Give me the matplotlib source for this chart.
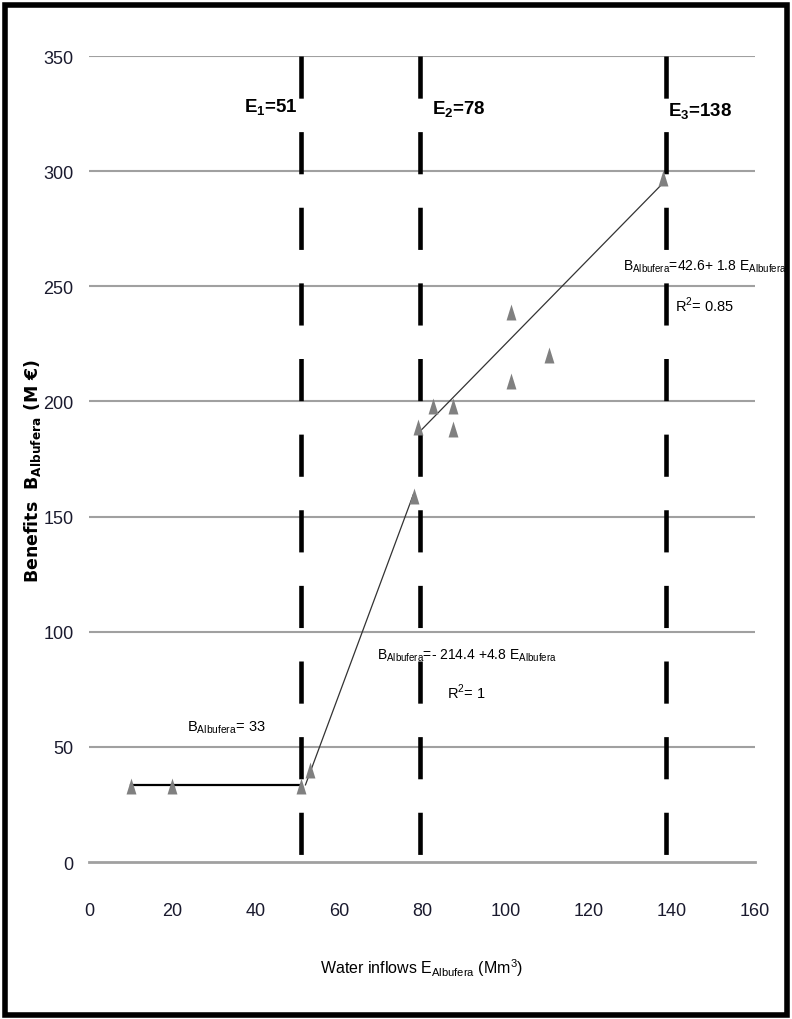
import matplotlib.pyplot as plt
from matplotlib.patches import Rectangle

plt.rcParams['font.family'] = ['Liberation Sans', 'DejaVu Sans']
plt.rcParams['mathtext.fontset'] = 'custom'
plt.rcParams['mathtext.rm'] = 'Liberation Sans'
plt.rcParams['mathtext.bf'] = 'Liberation Sans:bold'

# observed points (water inflow, benefit)
inflow = [10, 20, 51, 53, 78, 79, 82.7, 87.5, 87.5, 101.4, 101.4, 110.6, 138]
benefit = [33, 33, 33, 40, 159, 189, 198, 198, 188, 239, 209, 220, 297]

# fitted segments
seg1_x = [10, 51]
seg1_y = [33.5, 33.5]
seg2_x = [52, 78]
seg2_y = [33.5, 160]
seg3_x = [79.5, 138]
seg3_y = [187, 295]

thresholds = [51, 79.5, 138.5]
threshold_labels = [r'E$_{\mathbf{1}}$=51', r'E$_{\mathbf{2}}$=78', r'E$_{\mathbf{3}}$=138']

xticks = [0, 20, 40, 60, 80, 100, 120, 140, 160]
yticks = [0, 50, 100, 150, 200, 250, 300, 350]

fig = plt.figure(figsize=(7.92, 10.2), dpi=100)
ax = fig.add_axes([0.1124, 0.1539, 0.8409, 0.7902])

for y in yticks[1:]:
    ax.axhline(y, color='#a0a0a0', lw=1.5, zorder=1)

for x in thresholds:
    ax.plot([x, x], [350, 0], color='black', lw=3.3,
            linestyle=(0, (9.2, 7.3)), solid_capstyle='butt', zorder=2)

ax.plot(seg1_x, seg1_y, color='black', lw=1.6, zorder=3)
ax.plot(seg2_x, seg2_y, color='#333333', lw=0.9, zorder=3)
ax.plot(seg3_x, seg3_y, color='#333333', lw=0.9, zorder=3)

tri = [(-0.62, -1), (0.62, -1), (0, 1)]
ax.plot(inflow, benefit, linestyle='none', marker=tri, markersize=11.5,
        color='#808080', markeredgewidth=0, zorder=4)

ax.set_xlim(0, 160)
ax.set_ylim(0, 350)
ax.set_xticks(xticks)
ax.set_yticks(yticks)
ax.tick_params(length=0, labelsize=13, colors='#1a1a2e')
ax.tick_params(axis='y', pad=11)
ax.tick_params(axis='x', pad=29)
for s in ['left', 'right', 'top']:
    ax.spines[s].set_visible(False)
ax.spines['bottom'].set_color('#a0a0a0')
ax.spines['bottom'].set_linewidth(2)

ax.set_xlabel(r'Water inflows E$_{\mathregular{Albufera}}$ (Mm$^{3}$)', fontsize=11.5, labelpad=27)
fig.text(0.041, 0.538, r'Benefits  B$_{\mathregular{Albufera}}$ (M €)', fontsize=12.5,
         fontweight='bold', family=['DejaVu Sans'], rotation=90, ha='center', va='center')

ax.text(43.8, 328, threshold_labels[0], fontsize=13.5, fontweight='bold', ha='center', va='center')
ax.text(82.3, 327, threshold_labels[1], fontsize=13.5, fontweight='bold', ha='left', va='center')
ax.text(139.2, 326, threshold_labels[2], fontsize=13.5, fontweight='bold', ha='left', va='center')

ax.text(128.3, 259, r'B$_{\mathregular{Albufera}}$=42.6+ 1.8 E$_{\mathregular{Albufera}}$',
        fontsize=10, ha='left', va='center')
ax.text(140.8, 242, r'R$^{2}$= 0.85', fontsize=10.5, ha='left', va='center')
ax.text(69.2, 90, r'B$_{\mathregular{Albufera}}$=- 214.4 +4.8 E$_{\mathregular{Albufera}}$',
        fontsize=10, ha='left', va='center')
ax.text(86, 74, r'R$^{2}$= 1', fontsize=10.5, ha='left', va='center')
ax.text(23.5, 59, r'B$_{\mathregular{Albufera}}$= 33', fontsize=10.5, ha='left', va='center')

fig.patches.append(Rectangle((0.006, 0.004), 0.988, 0.99, transform=fig.transFigure,
                             fill=False, edgecolor='black', lw=4))

fig.savefig('out.png', dpi=100)
